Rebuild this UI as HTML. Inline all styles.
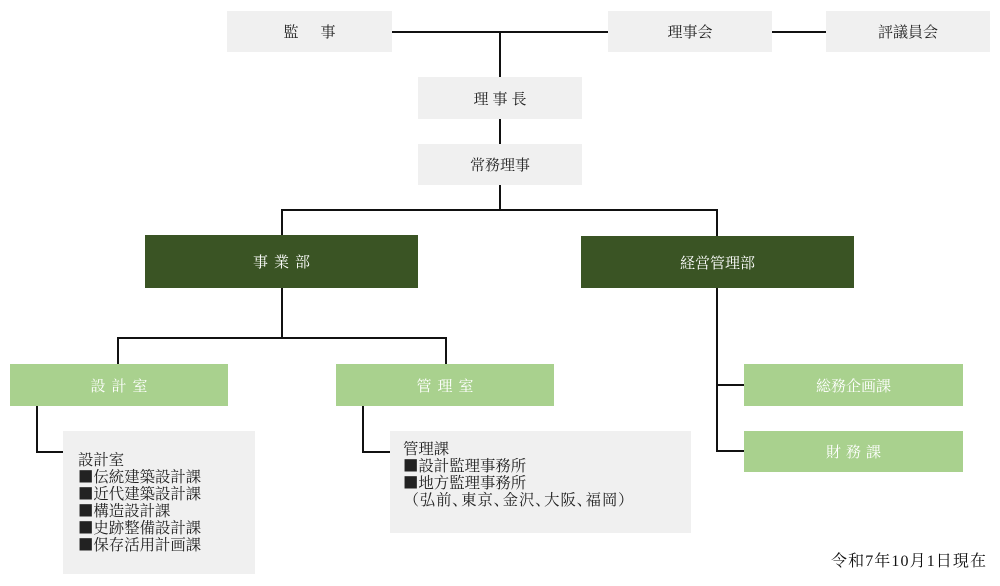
<!DOCTYPE html>
<html><head><meta charset="utf-8">
<style>
html,body{margin:0;padding:0;background:#fff;}
body{width:1000px;height:586px;position:relative;overflow:hidden;font-family:"Liberation Serif","Noto Serif CJK SC",serif;}
.b{position:absolute;display:flex;align-items:center;justify-content:center;font-size:15px;color:#222;white-space:nowrap;}
.g{background:#f0f0f0;}
.d{background:#3a5424;color:#fff;}
.l{background:#a9d18e;color:#fff;}
.list{position:absolute;background:#f0f0f0;font-size:15.4px;line-height:17px;color:#222;box-sizing:border-box;white-space:nowrap;font-family:"Noto Serif CJK SC",serif;}
.sq{font-family:"Noto Sans CJK SC",sans-serif;}
.p{font-feature-settings:"palt";letter-spacing:1px;}
svg{position:absolute;left:0;top:0;}
</style></head><body>
<div class="b g" style="left:227px;top:11px;width:165px;height:41px;"><span style="margin-right:22px">監</span>事</div>
<div class="b g" style="left:608px;top:11px;width:164px;height:41px;">理事会</div>
<div class="b g" style="left:826px;top:11px;width:164px;height:41px;">評議員会</div>
<div class="b g" style="left:418px;top:77px;width:164px;height:42px;letter-spacing:4px;text-indent:4px;">理事長</div>
<div class="b g" style="left:418px;top:144px;width:164px;height:41px;">常務理事</div>
<div class="b d" style="left:145px;top:235px;width:273px;height:53px;letter-spacing:6px;text-indent:6px;">事業部</div>
<div class="b d" style="left:581px;top:236px;width:273px;height:52px;">経営管理部</div>
<div class="b l" style="left:10px;top:364px;width:218px;height:42px;letter-spacing:6px;text-indent:6px;">設計室</div>
<div class="b l" style="left:336px;top:364px;width:218px;height:42px;letter-spacing:6px;text-indent:6px;">管理室</div>
<div class="b l" style="left:744px;top:364px;width:219px;height:42px;">総務企画課</div>
<div class="b l" style="left:744px;top:431px;width:219px;height:41px;letter-spacing:5px;text-indent:5px;">財務課</div>
<div class="list" style="left:63px;top:431px;width:192px;height:143px;padding:20px 0 0 15px;">設計室<br><span class="sq">■</span>伝統建築設計課<br><span class="sq">■</span>近代建築設計課<br><span class="sq">■</span>構造設計課<br><span class="sq">■</span>史跡整備設計課<br><span class="sq">■</span>保存活用計画課</div>
<div class="list" style="left:390px;top:431px;width:301px;height:102px;padding:9px 0 0 13px;">管理課<br><span class="sq">■</span>設計監理事務所<br><span class="sq">■</span>地方監理事務所<br><span class="p" style="margin-left:8px;">（弘前、東京、金沢、大阪、福岡）</span></div>
<div style="position:absolute;left:831px;top:553px;font-size:16px;line-height:18px;color:#111;white-space:nowrap;letter-spacing:1.1px;">令和7年10月1日現在</div>
<svg width="1000" height="586" viewBox="0 0 1000 586">
<g stroke="#111" stroke-width="2" fill="none">
<line x1="392" y1="32" x2="608" y2="32"/>
<line x1="772" y1="32" x2="826" y2="32"/>
<line x1="500" y1="32" x2="500" y2="77"/>
<line x1="500" y1="119" x2="500" y2="144"/>
<line x1="500" y1="185" x2="500" y2="210"/>
<line x1="281" y1="210" x2="718" y2="210"/>
<line x1="282" y1="210" x2="282" y2="235"/>
<line x1="717" y1="210" x2="717" y2="236"/>
<line x1="282" y1="288" x2="282" y2="338"/>
<line x1="117" y1="338" x2="447" y2="338"/>
<line x1="118" y1="338" x2="118" y2="364"/>
<line x1="446" y1="338" x2="446" y2="364"/>
<line x1="37" y1="406" x2="37" y2="453"/>
<line x1="36" y1="452" x2="63" y2="452"/>
<line x1="363" y1="406" x2="363" y2="453"/>
<line x1="362" y1="452" x2="390" y2="452"/>
<line x1="717" y1="288" x2="717" y2="452"/>
<line x1="716" y1="385" x2="744" y2="385"/>
<line x1="716" y1="451" x2="744" y2="451"/>
</g>
</svg>
</body></html>
